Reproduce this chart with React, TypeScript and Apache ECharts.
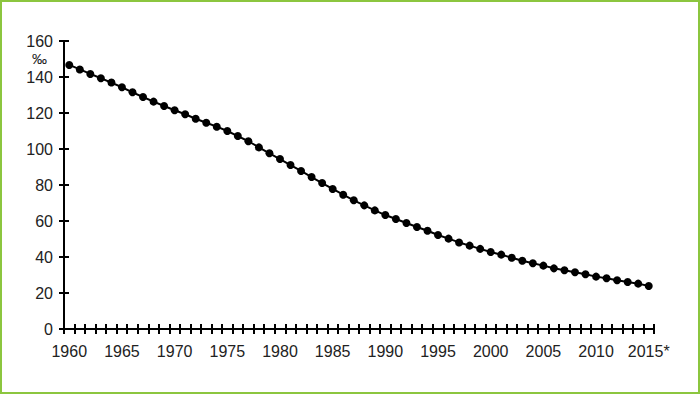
import React, { useEffect, useRef } from "react";
import * as echarts from "echarts";

const years: string[] = [
  "1960","1961","1962","1963","1964","1965","1966","1967","1968","1969",
  "1970","1971","1972","1973","1974","1975","1976","1977","1978","1979",
  "1980","1981","1982","1983","1984","1985","1986","1987","1988","1989",
  "1990","1991","1992","1993","1994","1995","1996","1997","1998","1999",
  "2000","2001","2002","2003","2004","2005","2006","2007","2008","2009",
  "2010","2011","2012","2013","2014","2015*",
];

const rates: number[] = [
  146.7, 144.2, 141.7, 139.3, 136.9, 134.3, 131.5, 128.9, 126.3, 123.9,
  121.5, 119.3, 116.8, 114.6, 112.4, 110.0, 107.2, 104.3, 100.9, 97.6,
  94.4, 91.1, 87.8, 84.4, 81.1, 77.8, 74.6, 71.5, 68.7, 65.9,
  63.3, 61.1, 58.9, 56.7, 54.6, 52.2, 50.2, 48.1, 46.3, 44.5,
  42.8, 41.3, 39.6, 37.9, 36.5, 35.2, 33.7, 32.6, 31.5, 30.4,
  29.1, 28.2, 27.1, 26.1, 25.2, 23.9,
];

const yMin = 0;
const yMax = 160;
const yStep = 20;
const unitLabel = "‰";

export default function App() {
  const ref = useRef<HTMLDivElement>(null);

  useEffect(() => {
    if (!ref.current) return;
    const chart = echarts.init(ref.current, null, { renderer: "svg" });
    const font = "'Liberation Sans', Arial, Helvetica, sans-serif";
    const gridBox = { left: 64, right: 46, top: 41, bottom: 65 };
    chart.setOption({
      animation: false,
      backgroundColor: "transparent",
      textStyle: { fontFamily: font },
      grid: [
        { ...gridBox, containLabel: false },
        { ...gridBox, containLabel: false },
      ],
      xAxis: [
        {
          type: "category",
          gridIndex: 0,
          data: years,
          boundaryGap: true,
          axisLine: { lineStyle: { color: "#000", width: 2 } },
          axisTick: { show: true, inside: false, length: 5, interval: 0, lineStyle: { color: "#000", width: 2 } },
          axisLabel: { interval: 4, margin: 14, color: "#222", fontSize: 16, fontFamily: font },
          splitLine: { show: false },
        },
        {
          type: "category",
          gridIndex: 1,
          data: years,
          boundaryGap: true,
          axisLine: { show: false },
          axisTick: { show: true, inside: true, length: 5, interval: 0, lineStyle: { color: "#000", width: 2 } },
          axisLabel: { show: false },
          splitLine: { show: false },
        },
      ],
      yAxis: [
        {
          type: "value",
          gridIndex: 0,
          min: yMin,
          max: yMax,
          interval: yStep,
          axisLine: { show: true, lineStyle: { color: "#000", width: 2 } },
          axisTick: { show: true, inside: false, length: 5, lineStyle: { color: "#000", width: 2 } },
          axisLabel: { margin: 11, color: "#222", fontSize: 16, fontFamily: font },
          splitLine: { show: false },
        },
        {
          type: "value",
          gridIndex: 1,
          min: yMin,
          max: yMax,
          interval: yStep,
          axisLine: { show: false },
          axisTick: { show: true, inside: true, length: 5, lineStyle: { color: "#000", width: 2 } },
          axisLabel: { show: false },
          splitLine: { show: false },
        },
      ],
      graphic: [
        {
          type: "text",
          left: 32,
          top: 51,
          style: { text: unitLabel, fontSize: 15, fill: "#222", fontFamily: font },
        },
      ],
      series: [
        {
          type: "line",
          xAxisIndex: 0,
          yAxisIndex: 0,
          data: rates,
          symbol: "circle",
          symbolSize: 8,
          showAllSymbol: true,
          lineStyle: { color: "#000", width: 2 },
          itemStyle: { color: "#000" },
        },
      ],
    });
    return () => chart.dispose();
  }, []);

  return (
    <div
      style={{
        position: "fixed",
        left: 0,
        top: 0,
        width: 700,
        height: 394,
        background: "#fff",
      }}
    >
      <div ref={ref} style={{ position: "absolute", left: 0, top: 0, width: 700, height: 394 }} />
      <div
        style={{
          position: "absolute",
          left: 0,
          top: 0,
          width: 700,
          height: 394,
          boxSizing: "border-box",
          border: "2px solid #8cc63f",
          pointerEvents: "none",
        }}
      />
    </div>
  );
}
